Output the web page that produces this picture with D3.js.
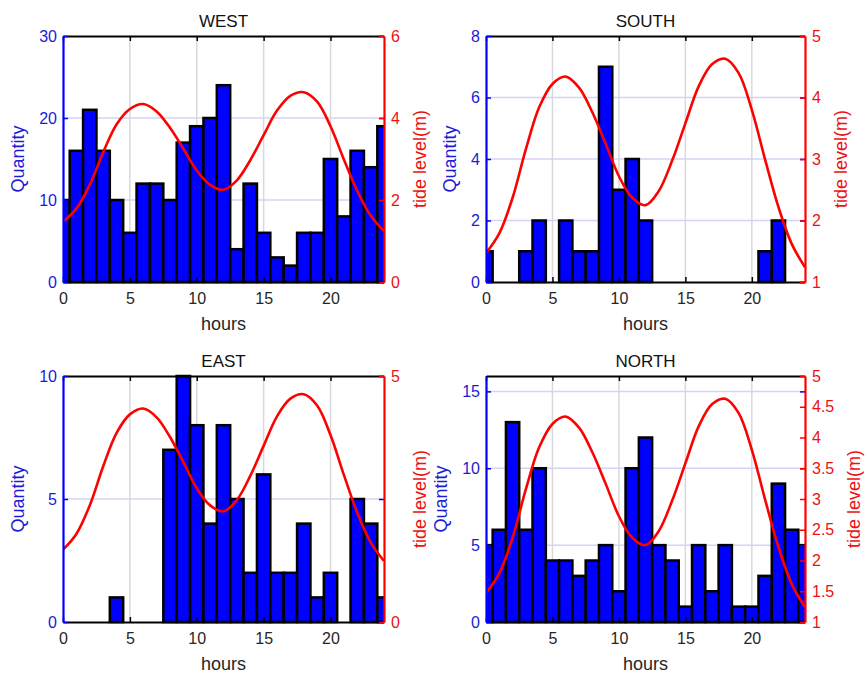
<!DOCTYPE html>
<html>
<head>
<meta charset="utf-8">
<script src="https://cdn.jsdelivr.net/npm/d3@7"></script>
<style>
  body { margin: 0; background: #fff; }
  svg { display: block; font-family: "Liberation Sans", Arial, Helvetica, sans-serif; }
</style>
</head>
<body>
<svg id="chart" width="865" height="675"></svg>
<script>
// Hour of day (bin centres of the hourly counts)
const hours = [0, 1, 2, 3, 4, 5, 6, 7, 8, 9, 10, 11, 12, 13, 14, 15, 16, 17, 18, 19, 20, 21, 22, 23, 24];

// Hourly counts per direction
const westCounts  = [10, 16, 21, 16, 10, 6, 12, 12, 10, 17, 19, 20, 24, 4, 12, 6, 3, 2, 6, 6, 15, 8, 16, 14, 19];
const southCounts = [1, 0, 0, 1, 2, 0, 2, 1, 1, 7, 3, 4, 2, 0, 0, 0, 0, 0, 0, 0, 0, 1, 2, 0, 0];
const eastCounts  = [0, 0, 0, 0, 1, 0, 0, 0, 7, 10, 8, 4, 8, 5, 2, 6, 2, 2, 4, 1, 2, 0, 5, 4, 1];
const northCounts = [5, 6, 13, 6, 10, 4, 4, 3, 4, 5, 2, 10, 12, 5, 4, 1, 5, 2, 5, 1, 1, 3, 9, 6, 5];

// Tide level (m) through the day
const tideHours = [0, 1, 2, 3, 4, 5, 6, 7, 8, 9, 10, 11, 12, 13, 14, 15, 16, 17, 18, 19, 20, 21, 22, 23, 24];
const tideLevel = [1.47, 1.79, 2.37, 3.16, 3.84, 4.22, 4.34, 4.16, 3.76, 3.25, 2.72, 2.37, 2.25,
                   2.48, 2.97, 3.58, 4.18, 4.54, 4.63, 4.40, 3.80, 2.99, 2.22, 1.62, 1.24];

// Axis tick values
const hourTicks = [0, 5, 10, 15, 20];
const westLeftTicks  = [0, 10, 20, 30];
const westRightTicks = [0, 2, 4, 6];
const southLeftTicks  = [0, 2, 4, 6, 8];
const southRightTicks = [1, 2, 3, 4, 5];
const eastLeftTicks  = [0, 5, 10];
const eastRightTicks = [0, 5];
const northLeftTicks  = [0, 5, 10, 15];
const northRightTicks = [1, 1.5, 2, 2.5, 3, 3.5, 4, 4.5, 5];

const BLUE = "#0000ff";
const BLUE_TEXT = "#1c1cd6";
const RED = "#ff0000";
const RED_TEXT = "#ee1111";

const panels = [
  { id: "west",  title: "WEST",  counts: westCounts,  leftDomain: [0, 30], leftTicks: westLeftTicks,
    rightDomain: [0, 6], rightTicks: westRightTicks, left: 63, right: 384, top: 36, bottom: 282 },
  { id: "south", title: "SOUTH", counts: southCounts, leftDomain: [0, 8], leftTicks: southLeftTicks,
    rightDomain: [1, 5], rightTicks: southRightTicks, left: 486, right: 805, top: 36, bottom: 282 },
  { id: "east",  title: "EAST",  counts: eastCounts,  leftDomain: [0, 10], leftTicks: eastLeftTicks,
    rightDomain: [0, 5], rightTicks: eastRightTicks, left: 63, right: 384, top: 376, bottom: 622 },
  { id: "north", title: "NORTH", counts: northCounts, leftDomain: [0, 16], leftTicks: northLeftTicks,
    rightDomain: [1, 5], rightTicks: northRightTicks, left: 486, right: 805, top: 376, bottom: 622 }
];

const svg = d3.select("#chart");
const fmt = d3.format("~g");

function drawPanel(p) {
  const g = svg.append("g").attr("class", "panel " + p.id);
  const x = d3.scaleLinear().domain([0, 24]).range([p.left, p.right]);
  const yL = d3.scaleLinear().domain(p.leftDomain).range([p.bottom, p.top]);
  const yR = d3.scaleLinear().domain(p.rightDomain).range([p.bottom, p.top]);

  const clipId = "clip-" + p.id;
  svg.append("clipPath").attr("id", clipId)
    .append("rect")
    .attr("x", p.left).attr("y", p.top - 2)
    .attr("width", p.right - p.left).attr("height", p.bottom - p.top + 4);

  // grid lines
  g.append("g").selectAll("line")
    .data(hourTicks.filter(d => d > 0 && d < 24))
    .join("line")
    .attr("x1", d => x(d)).attr("x2", d => x(d))
    .attr("y1", p.top).attr("y2", p.bottom)
    .attr("stroke", "#d9d9dc").attr("stroke-width", 1.5);

  g.append("g").selectAll("line")
    .data(p.leftTicks.filter(d => d > p.leftDomain[0] && d < p.leftDomain[1]))
    .join("line")
    .attr("x1", p.left).attr("x2", p.right)
    .attr("y1", d => yL(d)).attr("y2", d => yL(d))
    .attr("stroke", "#d3d3f7").attr("stroke-width", 1.5);

  // hourly bars
  const bw = x(1) - x(0);
  g.append("g").attr("clip-path", `url(#${clipId})`)
    .selectAll("rect")
    .data(hours.map((h, i) => ({ h, v: p.counts[i] })))
    .join("rect")
    .attr("x", d => x(d.h - 0.5))
    .attr("width", bw)
    .attr("y", d => yL(d.v))
    .attr("height", d => yL(0) - yL(d.v))
    .attr("fill", BLUE)
    .attr("stroke", "#000")
    .attr("stroke-width", 2.5);

  // tide curve
  const line = d3.line()
    .x((d, i) => x(tideHours[i]))
    .y(d => yR(d))
    .curve(d3.curveCatmullRom.alpha(0.5));
  g.append("path")
    .attr("clip-path", `url(#${clipId})`)
    .attr("d", line(tideLevel))
    .attr("fill", "none")
    .attr("stroke", RED)
    .attr("stroke-width", 2.6);

  // top border with inward ticks
  const topAxis = g.append("g").attr("transform", `translate(0,${p.top})`)
    .call(d3.axisTop(x).tickValues(hourTicks).tickSize(-5).tickSizeOuter(0).tickFormat(""));
  topAxis.select(".domain").attr("stroke", "#000").attr("stroke-width", 2);
  topAxis.selectAll(".tick line").attr("stroke", "#000").attr("stroke-width", 1.5);

  // bottom axis
  const bottomAxis = g.append("g").attr("transform", `translate(0,${p.bottom})`)
    .call(d3.axisBottom(x).tickValues(hourTicks).tickSize(-5).tickSizeOuter(0).tickPadding(11).tickFormat(fmt));
  bottomAxis.select(".domain").attr("stroke", "#000").attr("stroke-width", 2);
  bottomAxis.selectAll(".tick line").attr("stroke", "#000").attr("stroke-width", 1.5);
  bottomAxis.selectAll(".tick text").attr("fill", "#262626").attr("font-size", 16)
    .attr("font-family", null);

  // left-axis ticks repeated on the right side
  const mirror = g.append("g").attr("transform", `translate(${p.right},0)`)
    .call(d3.axisRight(yL).tickValues(p.leftTicks).tickSize(-5).tickSizeOuter(0).tickFormat(""));
  mirror.select(".domain").remove();
  mirror.selectAll(".tick line").attr("stroke", BLUE).attr("stroke-width", 1.5);

  // left axis (counts)
  const leftAxis = g.append("g").attr("transform", `translate(${p.left},0)`)
    .call(d3.axisLeft(yL).tickValues(p.leftTicks).tickSize(-5).tickSizeOuter(0).tickPadding(6).tickFormat(fmt));
  leftAxis.select(".domain").attr("stroke", BLUE).attr("stroke-width", 2.2);
  leftAxis.selectAll(".tick line").attr("stroke", BLUE).attr("stroke-width", 1.5);
  leftAxis.selectAll(".tick text").attr("fill", BLUE_TEXT).attr("font-size", 16)
    .attr("font-family", null);

  // right axis (tide level)
  const rightAxis = g.append("g").attr("transform", `translate(${p.right},0)`)
    .call(d3.axisRight(yR).tickValues(p.rightTicks).tickSize(-5).tickSizeOuter(0).tickPadding(7).tickFormat(fmt));
  rightAxis.select(".domain").attr("stroke", RED).attr("stroke-width", 2.2);
  rightAxis.selectAll(".tick line").attr("stroke", RED).attr("stroke-width", 1.5);
  rightAxis.selectAll(".tick text").attr("fill", RED_TEXT).attr("font-size", 16)
    .attr("font-family", null);

  // title
  g.append("text")
    .attr("x", (p.left + p.right) / 2).attr("y", p.top - 9)
    .attr("text-anchor", "middle")
    .attr("font-size", 17).attr("fill", "#111")
    .text(p.title);

  // x label
  g.append("text")
    .attr("x", (p.left + p.right) / 2).attr("y", p.bottom + 48)
    .attr("text-anchor", "middle")
    .attr("font-size", 18).attr("fill", "#262626")
    .text("hours");

  // y labels placed beside the widest tick label
  let minLeft = p.left;
  leftAxis.selectAll(".tick text").each(function () {
    const b = this.getBBox();
    const ctm = this.getCTM();
    minLeft = Math.min(minLeft, b.x + ctm.e);
  });
  let maxRight = p.right;
  rightAxis.selectAll(".tick text").each(function () {
    const b = this.getBBox();
    const ctm = this.getCTM();
    maxRight = Math.max(maxRight, b.x + b.width + ctm.e);
  });
  const midY = (p.top + p.bottom) / 2;

  g.append("text")
    .attr("transform", `translate(${minLeft - 15},${midY}) rotate(-90)`)
    .attr("text-anchor", "middle")
    .attr("font-size", 18).attr("fill", BLUE_TEXT)
    .text("Quantity");

  g.append("text")
    .attr("transform", `translate(${maxRight + 26},${midY}) rotate(-90)`)
    .attr("text-anchor", "middle")
    .attr("font-size", 18).attr("fill", RED_TEXT)
    .text("tide level(m)");
}

panels.forEach(drawPanel);
</script>
</body>
</html>
